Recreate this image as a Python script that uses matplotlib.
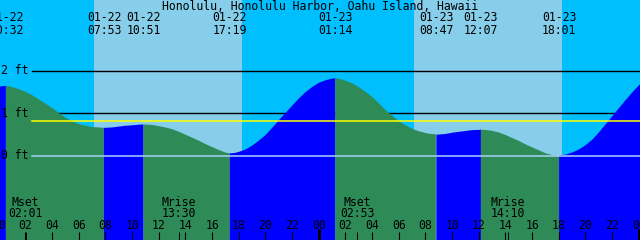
import matplotlib
matplotlib.use('Agg')
import matplotlib.pyplot as plt
import numpy as np

plt.rcParams['font.family'] = 'DejaVu Sans Mono'

title = 'Honolulu, Honolulu Harbor, Oahu Island, Hawaii'

# tide curve (hours from 01-22 00:00, feet)
tide_hours = [0, 0.53, 1, 1.5, 2, 2.5, 3, 3.5, 4, 4.5, 5, 5.5, 6, 6.5, 7, 7.5,
              7.88, 8.5, 9, 9.5, 10, 10.5, 10.85, 11.5, 12, 12.5, 13, 13.5,
              14, 14.5, 15, 15.5, 16, 16.5, 17, 17.32, 17.7, 18, 18.5, 19,
              19.5, 20, 20.5, 21, 21.5, 22, 22.5, 23, 23.5, 24, 24.5, 25,
              25.23, 25.6, 26, 26.5, 27, 27.5, 28, 28.5, 29, 29.5, 30, 30.5,
              31, 31.5, 32, 32.3, 32.78, 33.5, 34, 34.5, 35, 35.5, 36, 36.12,
              36.6, 37, 37.5, 38, 38.5, 39, 39.5, 40, 40.5, 41, 41.5, 42.02,
              42.5, 43, 43.5, 44, 44.5, 45, 45.5, 46, 46.5, 47, 47.5, 48, 48.2]
tide_feet = [1.62, 1.64, 1.61, 1.56, 1.50, 1.42, 1.32, 1.22, 1.12, 1.00, 0.89,
             0.81, 0.74, 0.70, 0.67, 0.66, 0.65, 0.66, 0.68, 0.70, 0.71, 0.725,
             0.73, 0.72, 0.69, 0.66, 0.62, 0.56, 0.49, 0.42, 0.35, 0.27, 0.20,
             0.13, 0.07, 0.05, 0.06, 0.085, 0.14, 0.23, 0.35, 0.48, 0.65,
             0.83, 1.00, 1.17, 1.34, 1.49, 1.61, 1.71, 1.77, 1.81, 1.82,
             1.80, 1.76, 1.70, 1.61, 1.50, 1.38, 1.23, 1.07, 0.94, 0.81,
             0.71, 0.63, 0.57, 0.53, 0.51, 0.50, 0.52, 0.55, 0.57, 0.59,
             0.61, 0.615, 0.62, 0.61, 0.59, 0.55, 0.49, 0.42, 0.35, 0.27,
             0.20, 0.13, 0.06, 0.02, 0.0, 0.02, 0.07, 0.14, 0.24, 0.37,
             0.54, 0.73, 0.92, 1.11, 1.30, 1.48, 1.65, 1.70]

tide_events = ['01-22 00:32', '01-22 07:53', '01-22 10:51', '01-22 17:19',
               '01-23 01:14', '01-23 08:47', '01-23 12:07', '01-23 18:01']
moon_names = ['Mset', 'Mrise', 'Mset', 'Mrise']
moon_events = ['01-22 02:01', '01-22 13:30', '01-23 02:53', '01-23 14:10']
sun_hours = [7.14, 18.24, 31.13, 42.23]  # sunrise / sunset
depth_lines = [1, 2]
msl = 0.82
tick_hours = list(range(0, 49, 2))


def to_hours(s):
    day, hm = s.split()
    hh, mm = hm.split(':')
    return (int(day[3:]) - 22) * 24 + int(hh) + int(mm) / 60


night = '#00bfff'
day = '#87ceeb'
flood = '#0000ff'
ebb = '#2e8b57'

fig = plt.figure(figsize=(6.4, 2.4), dpi=100)
ax = fig.add_axes([0, 0, 1, 1])
ax.set_xlim(0.088, 48.088)
ax.set_ylim(-1.988, 3.659)
ax.axis('off')

ax.axvspan(-1, 50, color=night, zorder=0)
for a, b in zip(sun_hours[0::2], sun_hours[1::2]):
    ax.axvspan(a, b, color=day, lw=0, zorder=0.5)

for lvl in depth_lines:
    ax.axhline(lvl, xmin=32 / 640, color='black', lw=1.0, zorder=1)

# fill below the curve, blue while rising, green while falling
t = np.array(tide_hours)
h = np.array(tide_feet)
rising = np.diff(h) > 0
start = 0
for i in range(1, len(rising) + 1):
    if i == len(rising) or rising[i] != rising[start]:
        seg = slice(start, i + 1)
        ax.fill_between(t[seg], h[seg], -5, color=flood if rising[start] else ebb,
                        lw=0, zorder=2)
        start = i

ax.axhline(msl, xmin=32 / 640, color='#ffff00', lw=1.1, zorder=3)
ax.axhline(0, xmin=32 / 640, color='#a8d4f8', lw=1.1, zorder=3)

fs = 8.3
for lvl in [0, 1, 2]:
    ax.text(0.002, lvl, f'{lvl} ft', transform=ax.get_yaxis_transform(),
            ha='left', va='center', fontsize=fs, zorder=5)

ax.text(0.5, 1 - 6 / 240, title, transform=ax.transAxes, ha='center',
        va='center', fontsize=fs, zorder=5)

xt = ax.get_xaxis_transform()
for ev in tide_events:
    x = to_hours(ev)
    d, tm = ev.split()
    ax.text(x, 1 - 17.5 / 240, d, transform=xt, ha='center', va='center',
            fontsize=fs, zorder=5)
    ax.text(x, 1 - 30 / 240, tm, transform=xt, ha='center', va='center',
            fontsize=fs, zorder=5)

for name, ev in zip(moon_names, moon_events):
    x = to_hours(ev)
    ax.text(x, 38 / 240, name, transform=xt, ha='center', va='center',
            fontsize=fs, zorder=5)
    ax.text(x, 26.5 / 240, ev.split()[1], transform=xt, ha='center',
            va='center', fontsize=fs, zorder=5)
    ax.vlines(x, 0, 8 / 240, transform=xt, color='black', lw=0.7, zorder=5)

for hr in tick_hours:
    if hr % 24 == 0:
        ax.vlines(hr, 0, 11 / 240, transform=xt, color='black', lw=2.2, zorder=5)
    else:
        ax.vlines(hr, 0, 8 / 240, transform=xt, color='black', lw=0.8, zorder=5)
    ax.text(hr, 14.5 / 240, f'{hr % 24:02d}', transform=xt, ha='center',
            va='center', fontsize=fs, zorder=5)

fig.savefig('out.png', dpi=100)
